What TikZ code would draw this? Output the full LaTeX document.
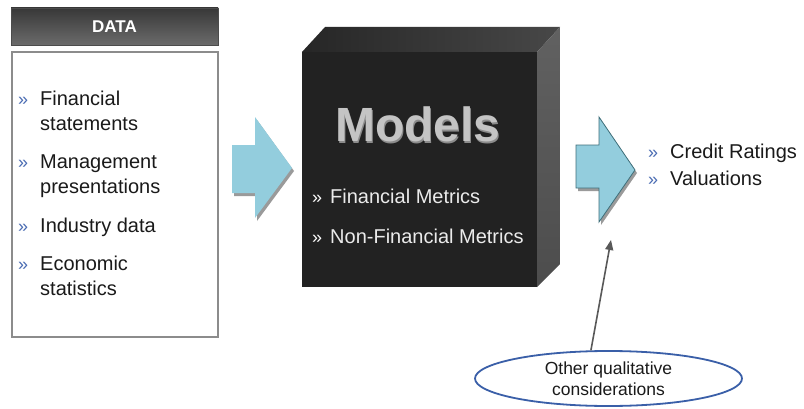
\documentclass[tikz,border=0pt]{standalone}
\usepackage{fontspec}
\setmainfont{Liberation Sans}
\usetikzlibrary{shapes.geometric,arrows.meta}
\definecolor{arrowblue}{HTML}{93CDDD}
\definecolor{arrowedge}{HTML}{3F6F7A}
\definecolor{shadowgray}{HTML}{9A9A9A}
\definecolor{bulletblue}{HTML}{4A6CB3}
\definecolor{ellblue}{HTML}{3A5FA8}
\definecolor{cubefront}{HTML}{222222}
\definecolor{modelgray}{HTML}{C4C4C4}
\definecolor{textdark}{HTML}{1A1A1A}
\tikzset{
  itemtext/.style={anchor=base west, inner sep=0pt, font=\fontsize{20}{25}\selectfont, text=textdark},
  bul/.style={anchor=base west, inner sep=0pt, font=\fontsize{18}{20}\selectfont, text=bulletblue},
  wbul/.style={anchor=base west, inner sep=0pt, font=\fontsize{18}{20}\selectfont, text=white},
  wtext/.style={anchor=base west, inner sep=0pt, font=\fontsize{20}{25}\selectfont, text=white!92!black},
}
\begin{document}
\begin{tikzpicture}[x=1pt,y=1pt]
\useasboundingbox (0,0) rectangle (804,408);
\fill[white] (0,0) rectangle (804,408);

% DATA header and box
\node[top color=black!78, bottom color=black!58, draw=black!70, line width=0.6pt,
      minimum width=207pt, minimum height=37pt, inner sep=0pt,
      font=\fontsize{17}{20}\selectfont\bfseries, text=white] (hdr) at (114.5,381.5) {DATA};
\node[draw=black!45, line width=1.2pt, minimum width=206pt, minimum height=285pt, inner sep=0pt] (databox) at (115,213.5) {};

\node[bul] (b1) at (18,302) {»};
\node[itemtext] (t1) at (40,302) {Financial};
\node[itemtext] (t1b) at (40,277) {statements};
\node[bul] (b2) at (18,240) {»};
\node[itemtext] (t2) at (40,240) {Management};
\node[itemtext] (t2b) at (40,215) {presentations};
\node[bul] (b3) at (18,176) {»};
\node[itemtext] (t3) at (40,176) {Industry data};
\node[bul] (b4) at (18,138) {»};
\node[itemtext] (t4) at (40,138) {Economic};
\node[itemtext] (t4b) at (40,113) {statistics};

% left block arrow
\fill[shadowgray] ([shift={(2,-3)}]232,263) -- ++(23,0) -- ++(0,28) -- ++(37,-51) -- ++(-37,-50) -- ++(0,25) -- ++(-23,0) -- cycle;
\fill[arrowblue] (232,263) -- (255,263) -- (255,291) -- (292,240) -- (255,190) -- (255,215) -- (232,215) -- cycle;

% cube
\shade[left color=black!85, right color=black!72] (302,356) -- (325,381) -- (560,381) -- (537,356) -- cycle;
\shade[top color=black!62, bottom color=black!70] (537,356) -- (560,381) -- (560,144) -- (537,121) -- cycle;
\fill[cubefront] (302,121) rectangle (537,356);
\node[anchor=base, inner sep=0pt, font=\fontsize{48}{50}\selectfont\bfseries, text=black!45] (modsh) at (419,265) {Models};
\node[anchor=base, inner sep=0pt, font=\fontsize{48}{50}\selectfont\bfseries, text=modelgray] (models) at (418,266) {Models};
\node[wbul] (mb1) at (312,205) {»};
\node[wtext] (m1) at (330,205) {Financial Metrics};
\node[wbul] (mb2) at (312,165) {»};
\node[wtext] (m2) at (330,165) {Non-Financial Metrics};

% right block arrow
\fill[shadowgray] ([shift={(2,-3)}]576,263) -- ++(23,0) -- ++(0,28) -- ++(36,-53) -- ++(-36,-52) -- ++(0,34) -- ++(-23,0) -- cycle;
\filldraw[fill=arrowblue, draw=arrowedge, line width=0.8pt] (576,263) -- (599,263) -- (599,291) -- (635,238) -- (599,186) -- (599,220) -- (576,220) -- cycle;

% outputs
\node[bul] (ob1) at (648,250) {»};
\node[itemtext] (o1) at (670,250) {Credit Ratings};
\node[bul] (ob2) at (648,223) {»};
\node[itemtext] (o2) at (670,223) {Valuations};

% ellipse and connector
\node[ellipse, draw=ellblue, line width=1.8pt, minimum width=267pt, minimum height=55pt, inner sep=0pt,
      align=center, font=\fontsize{17.5}{21}\selectfont, text=textdark] (ell) at (608.5,29.5) {Other qualitative\\considerations};
\coordinate (tipc) at (611,168);
\draw[black!65, line width=1.6pt, -{Triangle[length=10pt,width=8pt]}] (ell.122) -- (tipc);
\end{tikzpicture}
\end{document}
